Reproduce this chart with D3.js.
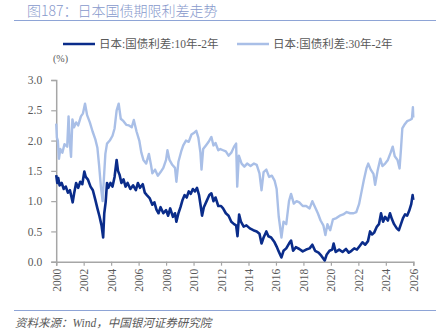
<!DOCTYPE html>
<html lang="zh">
<head>
<meta charset="utf-8">
<title>日本国债期限利差走势</title>
<script src="https://unpkg.com/d3@7/dist/d3.min.js"></script>
<style>
  body { margin: 0; background: #fff; }
  svg text { font-family: "Liberation Serif", "Times New Roman", "Noto Sans CJK SC", serif; }
</style>
</head>
<body>
<script>
// year ticks on the x axis
var yearTicks = [2000, 2002, 2004, 2006, 2008, 2010, 2012, 2014, 2016, 2018, 2020, 2022, 2024, 2026];
var valueTicks = [0, 0.5, 1.0, 1.5, 2.0, 2.5, 3.0];

// 日本:国债利差:10年-2年
var spread10Dates = [2000.00,2000.08,2000.15,2000.25,2000.40,2000.55,2000.70,2000.85,2001.00,2001.10,2001.20,2001.30,2001.45,2001.60,2001.75,2001.90,
  2002.05,2002.15,2002.30,2002.50,2002.67,2002.85,2003.00,2003.15,2003.30,2003.42,2003.50,2003.60,2003.70,2003.80,2003.95,
  2004.10,2004.25,2004.40,2004.50,2004.62,2004.75,2004.90,2005.05,2005.20,2005.40,2005.60,2005.80,2005.95,
  2006.10,2006.30,2006.45,2006.60,2006.80,2007.00,2007.15,2007.30,2007.45,2007.60,2007.80,
  2008.00,2008.15,2008.30,2008.50,2008.65,2008.75,2008.90,2009.05,2009.20,2009.35,2009.50,2009.65,2009.80,2009.95,
  2010.10,2010.25,2010.40,2010.52,2010.62,2010.75,2010.95,2011.15,2011.30,2011.45,2011.60,2011.80,
  2012.00,2012.15,2012.35,2012.55,2012.75,2012.95,2013.10,2013.20,2013.32,2013.45,2013.65,2013.85,
  2014.10,2014.35,2014.60,2014.80,2014.95,2015.10,2015.30,2015.45,2015.65,2015.90,
  2016.05,2016.20,2016.40,2016.55,2016.75,2016.95,2017.10,2017.25,2017.45,2017.70,2017.95,
  2018.20,2018.45,2018.65,2018.85,2019.10,2019.30,2019.55,2019.70,2019.90,
  2020.10,2020.20,2020.35,2020.60,2020.85,2021.10,2021.30,2021.50,2021.70,2021.90,
  2022.10,2022.30,2022.50,2022.70,2022.85,2023.00,2023.15,2023.35,2023.50,2023.65,2023.80,2023.95,
  2024.15,2024.30,2024.45,2024.60,2024.80,2024.95,2025.10,2025.25,2025.40,2025.55,2025.70,2025.85,2025.95,2026.00];
var spread10Values = [1.43,1.30,1.38,1.26,1.30,1.20,1.24,1.14,1.18,1.08,0.98,1.12,1.30,1.22,1.32,1.28,
  1.49,1.40,1.36,1.24,1.18,1.02,0.88,0.75,0.60,0.40,0.80,0.98,1.30,1.22,1.30,
  1.24,1.40,1.68,1.50,1.43,1.30,1.36,1.24,1.30,1.20,1.26,1.18,1.30,
  1.22,1.28,1.14,1.10,1.05,0.94,0.98,0.86,0.80,0.90,0.80,
  0.85,0.76,0.88,0.74,0.80,0.66,0.80,0.90,1.02,1.10,1.06,1.16,1.12,1.20,
  1.16,1.22,1.10,0.92,0.76,0.90,1.00,1.10,1.13,1.00,1.06,0.92,
  0.92,0.88,0.80,0.76,0.66,0.62,0.60,0.42,0.78,0.66,0.58,0.60,
  0.55,0.52,0.50,0.46,0.30,0.40,0.50,0.42,0.40,0.32,
  0.25,0.17,0.07,0.18,0.22,0.30,0.35,0.18,0.24,0.21,0.17,
  0.20,0.22,0.28,0.18,0.15,0.10,0.02,0.12,0.18,
  0.20,0.30,0.16,0.20,0.16,0.21,0.15,0.18,0.22,0.20,
  0.26,0.32,0.28,0.34,0.50,0.45,0.48,0.58,0.62,0.80,0.66,0.74,
  0.68,0.80,0.70,0.62,0.55,0.52,0.62,0.72,0.78,0.76,0.84,0.95,1.10,1.02];

// 日本:国债利差:30年-2年
var spread30Dates = [2000.00,2000.05,2000.12,2000.20,2000.30,2000.45,2000.60,2000.80,2000.90,2000.98,2001.08,2001.18,2001.30,2001.45,2001.60,2001.80,2001.95,
  2002.10,2002.25,2002.45,2002.65,2002.85,2003.00,2003.12,2003.25,2003.38,2003.48,2003.58,2003.70,2003.90,
  2004.10,2004.25,2004.40,2004.55,2004.70,2004.90,2005.10,2005.30,2005.50,2005.65,2005.85,
  2006.05,2006.20,2006.35,2006.55,2006.75,2006.90,2007.00,2007.20,2007.40,2007.60,2007.80,
  2008.00,2008.10,2008.25,2008.45,2008.65,2008.75,2008.90,2009.10,2009.25,2009.45,2009.65,2009.85,
  2010.05,2010.20,2010.35,2010.50,2010.58,2010.70,2010.90,2011.10,2011.30,2011.45,2011.60,2011.80,2011.95,
  2012.15,2012.35,2012.55,2012.75,2012.95,2013.10,2013.18,2013.30,2013.50,2013.70,2013.90,
  2014.15,2014.40,2014.60,2014.80,2014.95,2015.10,2015.30,2015.50,2015.70,2015.90,
  2016.05,2016.20,2016.40,2016.55,2016.75,2016.95,2017.10,2017.30,2017.50,2017.70,2017.95,
  2018.20,2018.45,2018.65,2018.85,2019.05,2019.25,2019.45,2019.60,2019.75,2019.95,
  2020.15,2020.40,2020.65,2020.90,2021.15,2021.40,2021.65,2021.85,
  2022.05,2022.20,2022.40,2022.60,2022.72,2022.90,2023.10,2023.22,2023.40,2023.60,2023.75,2023.95,
  2024.15,2024.35,2024.50,2024.65,2024.85,2025.00,2025.10,2025.20,2025.35,2025.55,2025.75,2025.90,2025.97,2026.00];
var spread30Values = [2.28,2.05,2.00,1.70,1.86,1.80,1.94,1.90,2.40,2.00,1.73,2.35,2.22,2.30,2.25,2.40,2.45,
  2.61,2.42,2.30,2.15,2.02,1.88,1.60,1.25,1.00,1.40,1.78,1.95,2.00,
  2.08,2.20,2.50,2.61,2.36,2.32,2.26,2.25,2.22,2.34,2.15,
  2.00,1.80,1.68,1.62,1.78,1.60,1.46,1.52,1.42,1.48,1.55,
  1.68,1.84,1.68,1.60,1.55,1.32,1.65,1.82,1.92,2.00,1.98,2.10,
  2.13,2.16,2.05,1.80,1.52,1.86,1.92,1.98,2.06,1.92,1.96,1.84,1.86,
  1.84,1.82,1.75,1.80,1.90,1.95,1.24,1.75,1.62,1.57,1.62,
  1.58,1.62,1.60,1.46,1.18,1.48,1.52,1.40,1.42,1.34,
  1.20,0.75,0.40,0.66,0.62,1.00,1.12,0.96,1.00,0.98,0.92,
  0.92,0.88,1.00,0.90,0.80,0.68,0.60,0.44,0.62,0.52,
  0.70,0.72,0.76,0.78,0.82,0.80,0.80,0.82,
  0.95,1.12,1.35,1.55,1.62,1.52,1.45,1.27,1.50,1.70,1.58,1.62,
  1.68,1.80,1.90,1.74,1.68,1.54,1.85,2.20,2.26,2.32,2.34,2.36,2.55,2.38];

var seriesNames = ["日本:国债利差:10年-2年", "日本:国债利差:30年-2年"];
var titleText = "图187：日本国债期限利差走势";
var sourceText = "资料来源：Wind，中国银河证券研究院";

var W = 436, H = 335;
var plotLeft = 56.2, plotRight = 413.3, plotTop = 80, plotBottom = 261.7;
var darkBlue = "#0a2c8a", lightBlue = "#a9bfe7", gray = "#595959", axisGray = "#a6a6a6";

var svg = d3.select("body").append("svg")
  .attr("width", W)
  .attr("height", H);

// title and rule lines
svg.append("text")
  .attr("x", 27).attr("y", 16)
  .attr("fill", "#8799cc")
  .style("font-size", "14px")
  .style("font-family", "'Noto Sans CJK SC', sans-serif")
  .style("font-weight", 300)
  .text(titleText);
svg.append("line")
  .attr("x1", 14).attr("x2", W).attr("y1", 20.5).attr("y2", 20.5)
  .attr("stroke", "#8ea4d6").attr("stroke-width", 1.2);
svg.append("line")
  .attr("x1", 14).attr("x2", W).attr("y1", 310.5).attr("y2", 310.5)
  .attr("stroke", "#8ea4d6").attr("stroke-width", 1.2);
svg.append("text")
  .attr("x", 15).attr("y", 327)
  .attr("fill", gray)
  .style("font-size", "11.5px")
  .style("font-style", "italic")
  .text(sourceText);

// legend
var legend = svg.append("g");
[[63, darkBlue, seriesNames[0]], [237, lightBlue, seriesNames[1]]].forEach(function(d) {
  legend.append("line")
    .attr("x1", d[0]).attr("x2", d[0] + 32).attr("y1", 44).attr("y2", 44)
    .attr("stroke", d[1]).attr("stroke-width", 2.5);
  legend.append("text")
    .attr("x", d[0] + 36).attr("y", 48)
    .attr("fill", gray)
    .style("font-size", "11.5px")
    .text(d[2]);
});

svg.append("text")
  .attr("x", 53).attr("y", 62)
  .attr("fill", gray)
  .style("font-size", "10px")
  .text("(%)");

// scales
var x = d3.scaleLinear().domain([2000, 2026]).range([plotLeft, plotRight]);
var y = d3.scaleLinear().domain([0, 3]).range([plotBottom, plotTop]);

// axes
var yAxis = svg.append("g")
  .attr("transform", "translate(" + plotLeft + ",0)")
  .call(d3.axisLeft(y).tickValues(valueTicks).tickFormat(d3.format(".1f")).tickSize(5).tickPadding(9));
var xAxis = svg.append("g")
  .attr("transform", "translate(0," + plotBottom + ")")
  .call(d3.axisBottom(x).tickValues(yearTicks).tickFormat(d3.format("d")).tickSize(4));

[xAxis, yAxis].forEach(function(a) {
  a.select(".domain").attr("stroke", axisGray).attr("stroke-width", 1.5);
  a.selectAll(".tick line").attr("stroke", axisGray).attr("stroke-width", 1.2);
  a.selectAll("text")
    .attr("fill", gray)
    .style("font-size", "11.5px")
    .style("font-family", "'Liberation Serif', serif");
});
xAxis.selectAll("text")
  .attr("transform", "rotate(-90)")
  .attr("x", -7).attr("y", 0).attr("dy", "0.35em")
  .style("text-anchor", "end");

// lines
var line = d3.line()
  .x(function(d) { return x(d[0]); })
  .y(function(d) { return y(d[1]); });

svg.append("path")
  .datum(d3.zip(spread30Dates, spread30Values))
  .attr("d", line)
  .attr("fill", "none")
  .attr("stroke", lightBlue)
  .attr("stroke-width", 2.4)
  .attr("stroke-linejoin", "round");

svg.append("path")
  .datum(d3.zip(spread10Dates, spread10Values))
  .attr("d", line)
  .attr("fill", "none")
  .attr("stroke", darkBlue)
  .attr("stroke-width", 2.6)
  .attr("stroke-linejoin", "round");
</script>
</body>
</html>
